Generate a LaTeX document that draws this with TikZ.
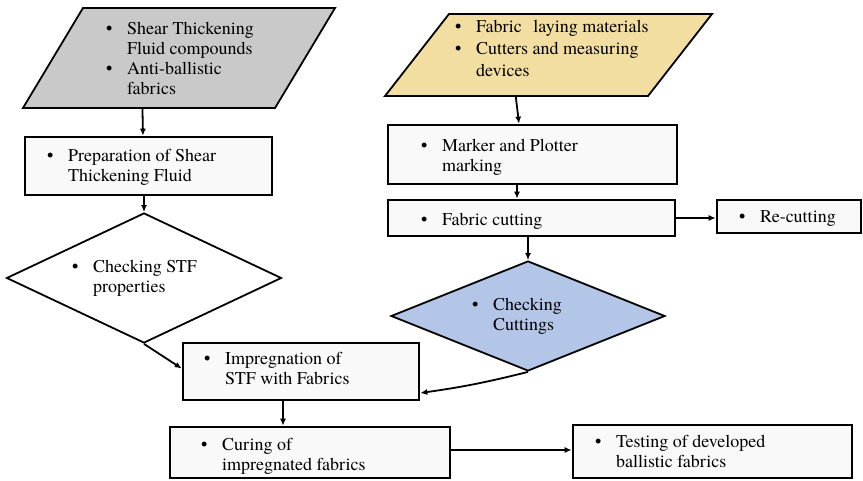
\documentclass[tikz,border=0pt]{standalone}
\usepackage{fontspec}
\setmainfont{texgyretermes}[Extension=.otf, UprightFont=*-regular, BoldFont=*-bold]
\newfontfamily\serf{texgyretermes}[Extension=.otf, UprightFont=*-regular, BoldFont=*-bold]
\usetikzlibrary{shapes.geometric,arrows.meta}

\definecolor{greyfill}{RGB}{201,201,201}
\definecolor{yellowfill}{RGB}{243,222,162}
\definecolor{bluefill}{RGB}{180,198,231}
\definecolor{boxfill}{RGB}{249,249,249}

% bullet and its hanging indent
\newcommand\bu{\makebox[21pt][l]{\textbullet}}
\newcommand\bi{\hspace*{21pt}}
\newcommand\lns[1]{\begin{tabular}[t]{@{}l@{}}#1\end{tabular}}

\begin{document}
\begin{tikzpicture}[x=1pt,y=-1pt,
  box/.style={draw, line width=2.6pt, fill=boxfill, rectangle, inner sep=0pt},
  para/.style={draw, line width=1.8pt, rectangle, inner sep=0pt, transform shape},
  decide/.style={draw, line width=1.8pt, diamond, inner sep=0pt},
  arr/.style={line width=1.8pt, -{Latex[length=7pt,width=6pt]}},
  txt/.style={inner sep=0pt, anchor=base west, font=\serf\fontsize{18}{20}\selectfont},
  txtw/.style={inner sep=0pt, anchor=base west, font=\serf\fontsize{18}{22}\selectfont}]
\useasboundingbox (0,0) rectangle (863,481);

% ---- input parallelograms
\node[para, fill=greyfill, xslant=0.6, minimum width=252pt, minimum height=100pt] (gp) at (179,58) {};
\node[para, fill=yellowfill, xslant=0.78, minimum width=263pt, minimum height=82pt] (yp) at (548.5,55) {};

% ---- process boxes
\node[box, minimum width=247pt, minimum height=58pt] (P) at (148.5,166) {};
\node[box, minimum width=236pt, minimum height=57pt] (I) at (301,371.5) {};
\node[box, minimum width=280pt, minimum height=51pt] (C) at (310,452.5) {};
\node[box, minimum width=279pt, minimum height=53pt] (T) at (712.5,451.5) {};
\node[box, minimum width=289pt, minimum height=59pt] (M) at (532.5,154.5) {};
\node[box, minimum width=287pt, minimum height=36pt] (F) at (531.5,218) {};
\node[box, minimum width=144pt, minimum height=33pt] (R) at (789,216.5) {};

% ---- decisions
\node[decide, fill=white, minimum width=275pt, minimum height=130pt] (D1) at (144,278) {};
\node[decide, fill=bluefill, minimum width=274pt, minimum height=110pt] (D2) at (528,316) {};

% ---- texts
\node[txt] (tg) at (106,35) {\lns{\bu Shear Thickening\\ \bi Fluid compounds\\ \bu Anti-ballistic\\ \bi fabrics}};
\node[txtw] (ty) at (455,33) {\lns{\bu Fabric\hspace{7pt} laying materials\\ \bu Cutters and measuring\\ \bi devices}};
\node[txt] (tP) at (47,162) {\lns{\bu Preparation of Shear\\ \bi Thickening Fluid}};
\node[txt] (tD1) at (72,273) {\lns{\bu Checking STF\\ \bi properties}};
\node[txt] (tI) at (204,365) {\lns{\bu Impregnation of\\ \bi STF with Fabrics}};
\node[txt] (tC) at (201,450) {\lns{\bu Curing of\\ \bi impregnated fabrics}};
\node[txt] (tT) at (595,447) {\lns{\bu Testing of developed\\ \bi ballistic fabrics}};
\node[txt] (tM) at (421,152) {\lns{\bu Marker and Plotter\\ \bi marking}};
\node[txt] (tF) at (421,226) {\lns{\bu Fabric cutting}};
\node[txt] (tR) at (739,223) {\lns{\bu Re-cutting}};
\node[txt] (tD2) at (472,311) {\lns{\bu Checking\\ \bi Cuttings}};

% ---- connectors
\draw[arr] ([xshift=-6pt]gp.south) -- ([xshift=-5.5pt]P.north);
\draw[arr] (P.south -| D1.north) -- (D1.north);
\draw[arr] (D1.south) -- ([yshift=3pt]I.west);
\draw[arr] ([xshift=-18pt]I.south) -- ([xshift=-18pt]I.south |- C.north);
\draw[arr] ([yshift=2.5pt]C.east) -- ([yshift=2.5pt]C.east -| T.west);
\draw[arr] (yp.south) -- ([xshift=-13.5pt]M.north);
\draw[arr] ([xshift=-15.5pt]M.south) -- ([xshift=-15.5pt]M.south |- F.north);
\draw[arr] (F.east) -- (F.east -| R.west);
\draw[arr] (D2.south) to[bend left=3] ([yshift=-21.5pt]I.east);
\draw[arr] (F.south -| D2.north) -- (D2.north);
\end{tikzpicture}
\end{document}
